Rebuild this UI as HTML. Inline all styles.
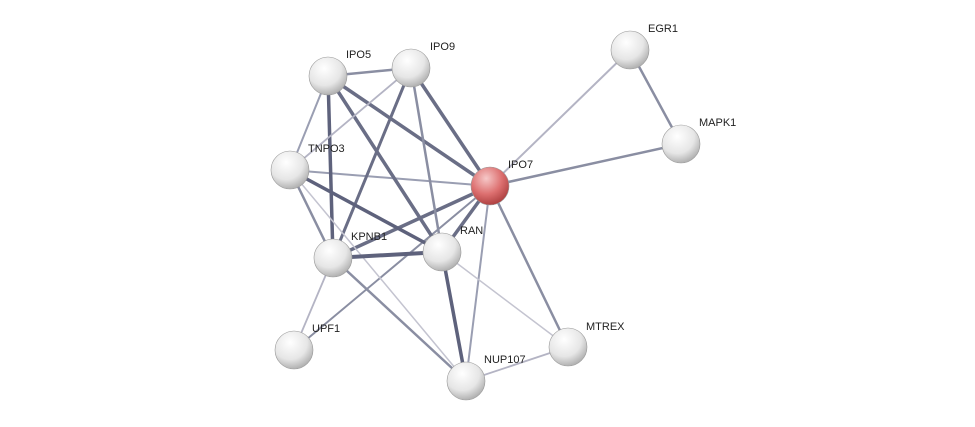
<!DOCTYPE html>
<html><head><meta charset="utf-8"><style>
html,body{margin:0;padding:0;background:#fff;}
svg{display:block;}
text{font-family:"Liberation Sans",sans-serif;font-size:11px;fill:#222;}
</style></head><body>
<svg width="975" height="427" viewBox="0 0 975 427" xmlns="http://www.w3.org/2000/svg">
<defs>
<radialGradient id="g" cx="0.4" cy="0.3" r="0.75">
<stop offset="0" stop-color="#ffffff"/><stop offset="0.6" stop-color="#e6e6e6"/><stop offset="1" stop-color="#a8a8a8"/>
</radialGradient>
<radialGradient id="r" cx="0.4" cy="0.3" r="0.75">
<stop offset="0" stop-color="#f6c8c8"/><stop offset="0.55" stop-color="#dd7070"/><stop offset="1" stop-color="#a83a3a"/>
</radialGradient>
</defs>
<g stroke-linecap="round">
<line x1="490" y1="186" x2="630" y2="50" stroke="#b4b4c4" stroke-width="2"/>
<line x1="630" y1="50" x2="681" y2="144" stroke="#8a8ea2" stroke-width="2.5"/>
<line x1="490" y1="186" x2="681" y2="144" stroke="#8a8ea2" stroke-width="2.5"/>
<line x1="490" y1="186" x2="328" y2="76" stroke="#6a6e86" stroke-width="3.5"/>
<line x1="490" y1="186" x2="411" y2="68" stroke="#6a6e86" stroke-width="3.5"/>
<line x1="490" y1="186" x2="290" y2="170" stroke="#9a9eb2" stroke-width="2"/>
<line x1="490" y1="186" x2="333" y2="258" stroke="#6a6e86" stroke-width="3.5"/>
<line x1="490" y1="186" x2="442" y2="252" stroke="#6a6e86" stroke-width="3.5"/>
<line x1="490" y1="186" x2="294" y2="350" stroke="#8a8ea2" stroke-width="2"/>
<line x1="490" y1="186" x2="466" y2="381" stroke="#9a9eb2" stroke-width="2"/>
<line x1="490" y1="186" x2="568" y2="347" stroke="#8a8ea2" stroke-width="2.5"/>
<line x1="328" y1="76" x2="411" y2="68" stroke="#8a8ea2" stroke-width="2.5"/>
<line x1="328" y1="76" x2="290" y2="170" stroke="#9a9eb2" stroke-width="2"/>
<line x1="328" y1="76" x2="333" y2="258" stroke="#5e627c" stroke-width="3.5"/>
<line x1="328" y1="76" x2="442" y2="252" stroke="#6a6e86" stroke-width="3.5"/>
<line x1="411" y1="68" x2="290" y2="170" stroke="#b4b4c4" stroke-width="1.8"/>
<line x1="411" y1="68" x2="333" y2="258" stroke="#6a6e86" stroke-width="3"/>
<line x1="411" y1="68" x2="442" y2="252" stroke="#8a8ea2" stroke-width="2.5"/>
<line x1="290" y1="170" x2="333" y2="258" stroke="#8a8ea2" stroke-width="2.5"/>
<line x1="290" y1="170" x2="442" y2="252" stroke="#5e627c" stroke-width="3.5"/>
<line x1="290" y1="170" x2="466" y2="381" stroke="#c4c4d0" stroke-width="1.5"/>
<line x1="333" y1="258" x2="442" y2="252" stroke="#5e627c" stroke-width="4"/>
<line x1="333" y1="258" x2="294" y2="350" stroke="#b4b4c4" stroke-width="1.8"/>
<line x1="333" y1="258" x2="466" y2="381" stroke="#8a8ea2" stroke-width="2.5"/>
<line x1="442" y1="252" x2="466" y2="381" stroke="#5e627c" stroke-width="3.5"/>
<line x1="442" y1="252" x2="568" y2="347" stroke="#c4c4d0" stroke-width="1.5"/>
<line x1="466" y1="381" x2="568" y2="347" stroke="#b4b4c4" stroke-width="1.8"/>
</g>
<g stroke="#999" stroke-width="0.6">
<circle cx="328" cy="76" r="19" fill="url(#g)"/>
<circle cx="411" cy="68" r="19" fill="url(#g)"/>
<circle cx="630" cy="50" r="19" fill="url(#g)"/>
<circle cx="681" cy="144" r="19" fill="url(#g)"/>
<circle cx="290" cy="170" r="19" fill="url(#g)"/>
<circle cx="490" cy="186" r="19" fill="url(#r)"/>
<circle cx="442" cy="252" r="19" fill="url(#g)"/>
<circle cx="333" cy="258" r="19" fill="url(#g)"/>
<circle cx="294" cy="350" r="19" fill="url(#g)"/>
<circle cx="568" cy="347" r="19" fill="url(#g)"/>
<circle cx="466" cy="381" r="19" fill="url(#g)"/>
</g>
<text x="346" y="58">IPO5</text>
<text x="430" y="50">IPO9</text>
<text x="648" y="32">EGR1</text>
<text x="699" y="126">MAPK1</text>
<text x="308" y="152">TNPO3</text>
<text x="508" y="168">IPO7</text>
<text x="460" y="234">RAN</text>
<text x="351" y="240">KPNB1</text>
<text x="312" y="332">UPF1</text>
<text x="586" y="330">MTREX</text>
<text x="484" y="363">NUP107</text>
</svg>
</body></html>
